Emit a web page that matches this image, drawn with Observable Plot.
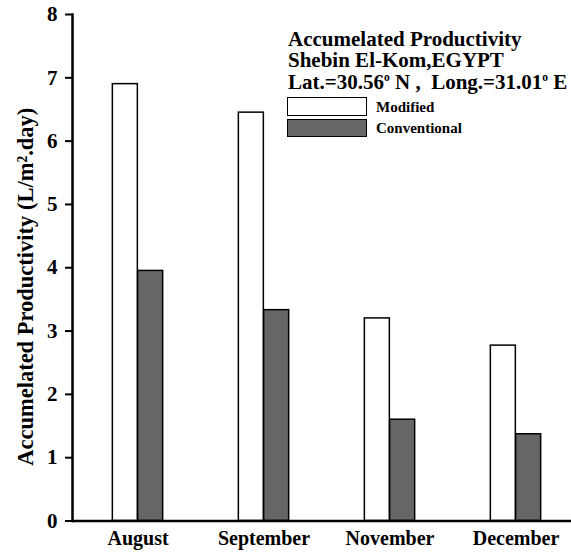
<!DOCTYPE html>
<html>
<head>
<meta charset="utf-8">
<script src="https://cdn.jsdelivr.net/npm/d3@7"></script>
<script src="https://cdn.jsdelivr.net/npm/@observablehq/plot@0.6"></script>
<style>
  html, body { margin: 0; padding: 0; background: #fff; }
  #wrap { position: relative; width: 571px; height: 553px; font-family: "Liberation Serif", "Times New Roman", serif; font-weight: bold; color: #000; }
  #wrap svg { position: absolute; left: 0; top: 0; }
  .t { position: absolute; white-space: pre; line-height: 21px; font-size: 21px; }
  .t sup { font-size: 0.55em; vertical-align: 0.7em; line-height: 0; }
  .sw { position: absolute; box-sizing: border-box; border: 1.5px solid #000; }
  .lab { position: absolute; white-space: pre; font-size: 15px; line-height: 15px; }
</style>
</head>
<body>
<div id="wrap"></div>
<script>
const months = ["August", "September", "November", "December"];
const modified = [6.9, 6.45, 3.2, 2.77];
const conventional = [3.95, 3.33, 1.6, 1.37];
const seriesNames = ["Modified", "Conventional"];
const seriesColors = ["#ffffff", "#666666"];
const yTicks = [0, 1, 2, 3, 4, 5, 6, 7, 8];
const yLabel = "Accumelated Productivity (L/m\u00B2.day)";
const titleLines = [
  "Accumelated Productivity",
  "Shebin El-Kom,EGYPT",
  "Lat.=30.56<sup>o</sup> N ,  Long.=31.01<sup>o</sup> E"
];

const modRows = months.map((m, i) => ({month: m, series: seriesNames[0], value: modified[i]}));
const convRows = months.map((m, i) => ({month: m, series: seriesNames[1], value: conventional[i]}));

const font = "'Liberation Serif', 'Times New Roman', serif";

const chart = Plot.plot({
  width: 571,
  height: 553,
  marginLeft: 72,
  marginRight: 0,
  marginTop: 14,
  marginBottom: 32.5,
  style: {fontFamily: font, fontWeight: "bold", background: "transparent", color: "#000"},
  x: {type: "band", domain: months, range: [73.7, 580.4], paddingInner: 0.8, paddingOuter: 0.4},
  y: {domain: [0, 8]},
  marks: [
    Plot.barY(modRows, {x: "month", y: "value", fill: seriesColors[0], stroke: "#000", strokeWidth: 1.5, dx: -12.65}),
    Plot.barY(convRows, {x: "month", y: "value", fill: seriesColors[1], stroke: "#000", strokeWidth: 1.5, dx: 12.65}),
    Plot.axisY({ticks: yTicks, tickFormat: d => String(d), tickSize: 7, tickPadding: 8, strokeWidth: 2, fontSize: 21, label: null}),
    Plot.axisX({tickSize: 0, tickPadding: 10, fontSize: 20, label: null}),
    Plot.text([yLabel], {frameAnchor: "left", textAnchor: "middle", rotate: -90, dx: -47, dy: 19, fontSize: 22.5, fontWeight: "bold"}),
    Plot.ruleY([0], {strokeWidth: 2.5}),
    Plot.frame({anchor: "left", strokeWidth: 2.5})
  ]
});

const wrap = document.getElementById("wrap");
wrap.appendChild(chart);

const tops = [29, 50, 71.5];
titleLines.forEach((line, i) => {
  const d = document.createElement("div");
  d.className = "t";
  d.style.left = "288px";
  d.style.top = tops[i] + "px";
  d.innerHTML = line;
  wrap.appendChild(d);
});

const swTops = [97, 118.5];
const labTops = [100, 120.5];
seriesNames.forEach((name, i) => {
  const s = document.createElement("div");
  s.className = "sw";
  s.style.left = "287px";
  s.style.top = swTops[i] + "px";
  s.style.width = "80px";
  s.style.height = "18.5px";
  s.style.background = seriesColors[i];
  wrap.appendChild(s);
  const l = document.createElement("div");
  l.className = "lab";
  l.style.left = "376px";
  l.style.top = labTops[i] + "px";
  l.textContent = name;
  wrap.appendChild(l);
});
</script>
</body>
</html>
